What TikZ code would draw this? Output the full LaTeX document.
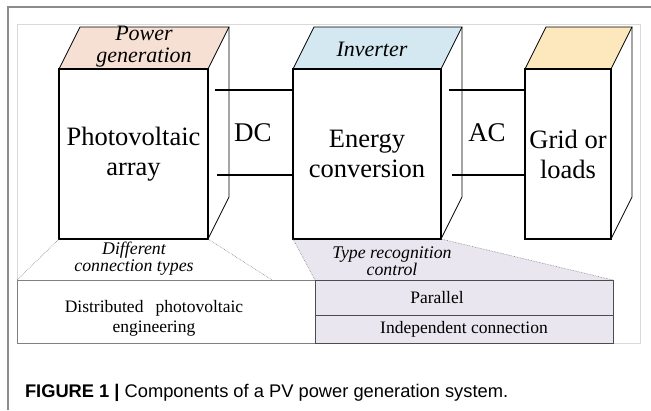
\documentclass[tikz,border=0pt]{standalone}
\usepackage{fontspec}
\setmainfont{Liberation Serif}
\newfontfamily\capfont{Liberation Sans}
\usepackage{xcolor}
\usetikzlibrary{positioning, calc, backgrounds}
\definecolor{pvtop}{HTML}{F6DFD3}
\definecolor{invtop}{HTML}{D3E8F0}
\definecolor{gridtop}{HTML}{FCE8BC}
\definecolor{ctrlfill}{HTML}{E9E6EF}

\begin{document}
\begin{tikzpicture}[
    x=1pt, y=-1pt,
    node distance=85pt,
    every node/.style={inner sep=0pt, outer sep=0pt},
    unit/.style={rectangle, draw, line width=2.8pt, minimum width=#1, minimum height=170pt, align=center, font=\fontsize{26.5}{30}\selectfont},
    face/.style={draw, line width=0.8pt, fill=#1},
    backline/.style={draw, line width=0.8pt},
    wire/.style={line width=2.6pt},
    wirelbl/.style={font=\fontsize{27}{30}\selectfont},
    tag/.style={align=center, font=\itshape\fontsize{22}{22}\selectfont},
    note/.style={align=center, font=\itshape\fontsize{17.8}{15}\selectfont},
    panel/.style={rectangle, draw=#1, line width=0.8pt, minimum width=298pt, align=center, font=\fontsize{17.5}{19.5}\selectfont},
    guide/.style={draw=gray, line width=0.6pt, densely dotted}
]
\useasboundingbox (0,0) rectangle (651,410);
\draw[gray!90, line width=1.2pt] (651,7) -- (8,7) -- (8,410);

\node[unit=149pt] (pv) at (133.5,154) {Photovoltaic\\array};
\node[unit=148pt, right=of pv] (conv) {Energy\\conversion};
\node[unit=86pt, right=84pt of conv] (grid) {Grid or\\loads};

\node[tag] (pgen) at (144,46.5) {Power\\generation};
\node[tag] (inv) at (372,49.5) {Inverter};

\node[wirelbl] (dc) at (253,133) {DC};
\node[wirelbl] (ac) at (487,133) {AC};
\draw[wire] ($(pv.north east)+(7,21)$) -- ($(conv.north west)+(0,21)$);
\draw[wire] ($(pv.south east)+(9,-64)$) -- ($(conv.south west)+(0,-64)$);
\draw[wire] ($(conv.north east)+(8,21)$) -- ($(grid.north west)+(0,21)$);
\draw[wire] ($(conv.south east)+(11,-64)$) -- ($(grid.south west)+(0,-64)$);

\node[panel=gray, minimum height=63pt] (dist) at (166,311.5) {};
\node[panel=black!70, minimum height=35pt, fill=ctrlfill, anchor=north west] (par) at (dist.north east) {};
\node[panel=black!70, minimum height=28pt, fill=ctrlfill, below=0pt of par] (ind) {Independent connection};
\node[panel=none, minimum width=0pt, draw=none] (distlbl) at ($(dist.center)+(-12,7)$) {Distributed\hspace{0.7em}photovoltaic\\engineering};
\node[panel=none, minimum width=0pt, draw=none] (parlbl) at ($(par.center)+(-27,0)$) {Parallel};

\node[note] (diff) at (134,258.5) {Different\\connection types};
\node[note] (ctrl) at (392,261.5) {Type recognition\\control};

\draw[guide] (pv.south west) -- (dist.north west);
\draw[guide] (pv.south east) -- ($(dist.north west)!0.856!(dist.north east)$);
\draw[guide] (conv.south west) -- (par.north west);
\draw[guide] (conv.south east) -- (par.north east);

\begin{scope}[on background layer]
\draw[black!15, line width=0.8pt] (17,24) rectangle (640,343);
\fill[ctrlfill] (conv.south west) -- (par.north west) -- (par.north east) -- (conv.south east) -- cycle;
\foreach \u/\c in {pv/pvtop, conv/invtop, grid/gridtop}{
  \draw[face=\c] (\u.north west) -- ++(21,-42) -- ($(\u.north east)+(21,-42)$) -- (\u.north east) -- cycle;
  \draw[backline] ($(\u.north east)+(21,-42)$) -- ($(\u.south east)+(21,-42)$) -- (\u.south east);
}
\end{scope}

\node[anchor=base west, font=\capfont\fontsize{18.3}{20}\selectfont] (cap) at (25,397) {\textbf{FIGURE 1 |} Components of a PV power generation system.};
\end{tikzpicture}
\end{document}
